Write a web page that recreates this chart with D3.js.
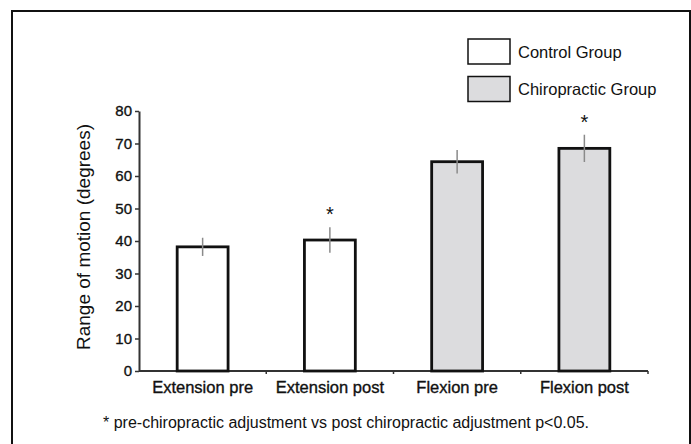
<!DOCTYPE html>
<html>
<head>
<meta charset="utf-8">
<script src="https://cdn.jsdelivr.net/npm/d3@7"></script>
<style>
  body { margin: 0; background: #fff; }
  text { font-family: "Liberation Sans", Arial, sans-serif; fill: #111; }
</style>
</head>
<body>
<div id="container"></div>
<script>
let w = 691;
let h = 444;

// data
let categories = ["Extension pre", "Extension post", "Flexion pre", "Flexion post"];
let means = [38.2, 40.3, 64.4, 68.5];
let errors = [2.8, 3.9, 3.6, 4.2];
let groups = ["Control", "Control", "Chiropractic", "Chiropractic"];
let significant = [false, true, false, true];
let yTicks = [0, 10, 20, 30, 40, 50, 60, 70, 80];
let legendLabels = ["Control Group", "Chiropractic Group"];
let footnote = "* pre-chiropractic adjustment vs post chiropractic adjustment p<0.05.";

let fills = { "Control": "#ffffff", "Chiropractic": "#dcdcde" };

let data = categories.map((c, i) => ({
  name: c, mean: means[i], err: errors[i], group: groups[i], sig: significant[i]
}));

let viz = d3.select("#container")
  .append("svg")
    .attr("width", w)
    .attr("height", h)
    .style("display", "block");

// outer frame, open at the bottom
viz.append("path")
  .attr("d", "M12," + (h + 5) + " V11 H690 V" + (h + 5))
  .attr("fill", "none")
  .attr("stroke", "#111")
  .attr("stroke-width", 2);

let xScale = d3.scaleBand()
  .domain(categories)
  .range([139, 648])
  .paddingInner(0.6)
  .paddingOuter(0.3);

let yScale = d3.scaleLinear().domain([0, 80]).range([371, 111]);

// y axis
let yAxisGroup = viz.append("g").attr("class", "yaxis")
  .attr("transform", "translate(139,0)")
  .call(d3.axisLeft(yScale).tickValues(yTicks).tickSize(4).tickSizeOuter(0).tickPadding(3));
yAxisGroup.select(".domain").attr("stroke", "#333").attr("stroke-width", 2);
yAxisGroup.selectAll(".tick line").attr("stroke", "#333").attr("stroke-width", 1.5);
yAxisGroup.selectAll(".tick text")
  .attr("font-size", 15)
  .attr("font-family", "Liberation Sans, Arial, sans-serif")
  .attr("fill", "#111")
  .attr("stroke", "#111")
  .attr("stroke-width", 0.35);

// x axis with ticks between categories
let step = xScale.step();
let boundaries = categories.map((c) => xScale(c) + xScale.bandwidth() + step * 0.3);
let xAxisGroup = viz.append("g").attr("class", "xaxis");
xAxisGroup.append("line")
  .attr("x1", 139).attr("x2", 648)
  .attr("y1", yScale(0)).attr("y2", yScale(0))
  .attr("stroke", "#333").attr("stroke-width", 2);
xAxisGroup.selectAll(".btick").data(boundaries).enter()
  .append("line")
  .attr("class", "btick")
  .attr("x1", (d) => d).attr("x2", (d) => d)
  .attr("y1", yScale(0)).attr("y2", yScale(0) + 3)
  .attr("stroke", "#333").attr("stroke-width", 1.5);
xAxisGroup.selectAll(".clabel").data(categories).enter()
  .append("text")
  .attr("class", "clabel")
  .attr("x", (d) => xScale(d) + xScale.bandwidth() / 2)
  .attr("y", 393)
  .attr("text-anchor", "middle")
  .attr("font-size", 16.5)
  .attr("stroke", "#111")
  .attr("stroke-width", 0.35)
  .text((d) => d);

// axis title
viz.append("text")
  .attr("transform", "translate(90,237) rotate(-90)")
  .attr("text-anchor", "middle")
  .attr("font-size", 19)
  .text("Range of motion (degrees)");

// bars
let bars = viz.append("g").attr("class", "bars");
bars.selectAll("rect").data(data).enter()
  .append("rect")
  .attr("x", (d) => xScale(d.name))
  .attr("width", xScale.bandwidth())
  .attr("y", (d) => yScale(d.mean))
  .attr("height", (d) => yScale(0) - yScale(d.mean))
  .attr("fill", (d) => fills[d.group])
  .attr("stroke", "#111")
  .attr("stroke-width", 2.8);

// error bars
bars.selectAll(".err").data(data).enter()
  .append("line")
  .attr("class", "err")
  .attr("x1", (d) => xScale(d.name) + xScale.bandwidth() / 2)
  .attr("x2", (d) => xScale(d.name) + xScale.bandwidth() / 2)
  .attr("y1", (d) => yScale(d.mean + d.err))
  .attr("y2", (d) => yScale(d.mean - d.err))
  .attr("stroke", "#8a8a8a")
  .attr("stroke-width", 1.5);

// significance markers
bars.selectAll(".star").data(data.filter((d) => d.sig)).enter()
  .append("text")
  .attr("class", "star")
  .attr("x", (d) => xScale(d.name) + xScale.bandwidth() / 2)
  .attr("y", (d) => yScale(d.mean + d.err) - 6)
  .attr("text-anchor", "middle")
  .attr("font-size", 20)
  .attr("fill", "#333")
  .text("*");

// legend
let legend = viz.append("g").attr("class", "legend");
let legendItems = legend.selectAll("g").data(legendLabels).enter()
  .append("g")
  .attr("transform", (d, i) => "translate(468," + (39 + i * 37.5) + ")");
legendItems.append("rect")
  .attr("width", 42).attr("height", 25)
  .attr("fill", (d, i) => i === 0 ? fills["Control"] : fills["Chiropractic"])
  .attr("stroke", "#111")
  .attr("stroke-width", 1.5);
legendItems.append("text")
  .attr("x", 50).attr("y", 18.5)
  .attr("font-size", 16.5)
  .text((d) => d);

// footnote
viz.append("text")
  .attr("x", 103).attr("y", 428)
  .attr("font-size", 16)
  .attr("fill", "#222")
  .text(footnote);
</script>
</body>
</html>
